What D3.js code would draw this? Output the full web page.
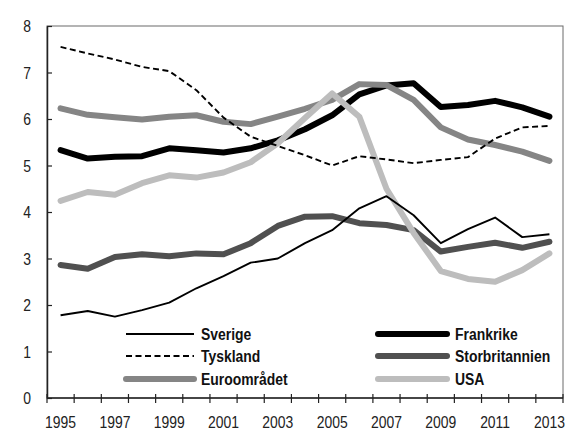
<!DOCTYPE html>
<html><head><meta charset="utf-8">
<script src="https://cdn.jsdelivr.net/npm/d3@7"></script>
<style>
html,body{margin:0;padding:0;background:#fff;}
svg{display:block;font-family:'Liberation Sans',Arial,sans-serif;}
</style></head>
<body><svg id="c" width="566" height="431"></svg>
<script>
const years = d3.range(1995, 2014);
const yTicks = [0,1,2,3,4,5,6,7,8];
const xTickLabels = [1995,1997,1999,2001,2003,2005,2007,2009,2011,2013];

const sverige        = [1.78,1.87,1.75,1.89,2.05,2.36,2.62,2.91,3.00,3.33,3.61,4.08,4.34,3.93,3.33,3.63,3.88,3.46,3.52];
const tyskland       = [7.55,7.41,7.28,7.12,7.03,6.62,6.03,5.62,5.42,5.22,5.00,5.20,5.13,5.05,5.12,5.18,5.58,5.82,5.85];
const euroomradet    = [6.23,6.09,6.04,5.99,6.05,6.08,5.94,5.89,6.05,6.22,6.41,6.75,6.73,6.41,5.82,5.56,5.44,5.30,5.10];
const frankrike      = [5.33,5.15,5.19,5.20,5.37,5.33,5.28,5.37,5.54,5.78,6.08,6.53,6.72,6.77,6.26,6.30,6.39,6.25,6.05];
const storbritannien = [2.86,2.78,3.03,3.09,3.05,3.11,3.09,3.33,3.70,3.90,3.91,3.76,3.72,3.61,3.15,3.25,3.34,3.23,3.36];
const usa            = [4.24,4.43,4.37,4.62,4.79,4.74,4.85,5.07,5.48,6.02,6.55,6.05,4.50,3.55,2.73,2.56,2.50,2.75,3.11];

const seriesNames = ["Sverige","Tyskland","Euroområdet","Frankrike","Storbritannien","USA"];

const series = [
  {name:"Storbritannien", values:storbritannien, color:"#505050", width:6, dash:null},
  {name:"Frankrike", values:frankrike, color:"#000000", width:6, dash:null},
  {name:"Euroområdet", values:euroomradet, color:"#858585", width:6, dash:null},
  {name:"USA", values:usa, color:"#bdbdbd", width:6, dash:null},
  {name:"Sverige", values:sverige, color:"#000000", width:1.9, dash:null},
  {name:"Tyskland", values:tyskland, color:"#000000", width:1.9, dash:"6,3.5"}
];

const svg = d3.select("#c");
const L = 47, R = 563, T = 26, B = 398;
const SX = 0.82; // condensed look
const x = d3.scaleBand().domain(years).range([L, R]).paddingInner(0).paddingOuter(0);
const y = d3.scaleLinear().domain([0, 8]).range([B, T]);

function ctext(g, tx, ty, str, opts) {
  return g.append("text")
    .attr("transform", `translate(${tx},${ty}) scale(${SX},1)`)
    .attr("text-anchor", opts.anchor || "start")
    .attr("dy", opts.dy || null)
    .attr("font-size", opts.size || 17)
    .attr("font-weight", opts.weight || "normal")
    .attr("fill", opts.fill || "#222")
    .text(str);
}

// frame
svg.append("rect").attr("x", L).attr("y", T).attr("width", R - L).attr("height", B - T)
  .attr("fill", "none").attr("stroke", "#6a6a6a").attr("stroke-width", 1);

// y axis
const yAxis = d3.axisLeft(y).tickValues(yTicks).tickSizeInner(-5).tickSizeOuter(0).tickFormat("");
const gy = svg.append("g").attr("transform", `translate(${L},0)`).call(yAxis);
gy.select(".domain").attr("stroke", "#222").attr("stroke-width", 1.5);
gy.selectAll(".tick line").attr("stroke", "#222").attr("stroke-width", 1.2);
const gyl = svg.append("g");
yTicks.forEach(v => ctext(gyl, 31, y(v), d3.format("d")(v), {anchor:"end", dy:"0.36em"}));

// x axis
const gx = svg.append("g");
gx.append("line").attr("x1", L).attr("x2", R).attr("y1", B).attr("y2", B).attr("stroke", "#222").attr("stroke-width", 1.5);
const bounds = years.map(d => x(d)).concat([x(years[years.length-1]) + x.bandwidth()]);
gx.selectAll("line.tk").data(bounds).enter().append("line").attr("class","tk")
  .attr("x1", d => d).attr("x2", d => d).attr("y1", B - 4).attr("y2", B + 5)
  .attr("stroke", "#222").attr("stroke-width", 1.2);
xTickLabels.forEach(d => ctext(gx, x(d) + x.bandwidth() / 2, 428, String(d), {anchor:"middle"}));

// lines
const line = d3.line().x((d, i) => x(years[i]) + x.bandwidth() / 2).y(d => y(d));
svg.append("g").selectAll("path").data(series).enter().append("path")
  .attr("d", d => line(d.values))
  .attr("fill", "none").attr("stroke", d => d.color).attr("stroke-width", d => d.width)
  .attr("stroke-dasharray", d => d.dash).attr("stroke-linejoin", "round")
  .attr("stroke-linecap", d => d.width > 3 ? "round" : "butt");

// legend
const byName = {};
series.forEach(s => byName[s.name] = s);
const legPos = [
  {x1:126, x2:194, tx:201, y:334},
  {x1:126, x2:194, tx:201, y:356},
  {x1:126, x2:194, tx:201, y:379},
  {x1:378, x2:447, tx:455, y:334},
  {x1:378, x2:447, tx:455, y:356},
  {x1:378, x2:447, tx:455, y:379}
];
const lg = svg.append("g");
seriesNames.forEach((n, i) => {
  const s = byName[n], p = legPos[i];
  lg.append("line").attr("x1", p.x1).attr("x2", p.x2).attr("y1", p.y).attr("y2", p.y)
    .attr("stroke", s.color).attr("stroke-width", s.width).attr("stroke-dasharray", s.dash)
    .attr("stroke-linecap", s.width > 3 ? "round" : "butt");
  ctext(lg, p.tx, p.y, n, {dy:"0.36em", weight:"bold", fill:"#111"});
});
</script></body></html>
